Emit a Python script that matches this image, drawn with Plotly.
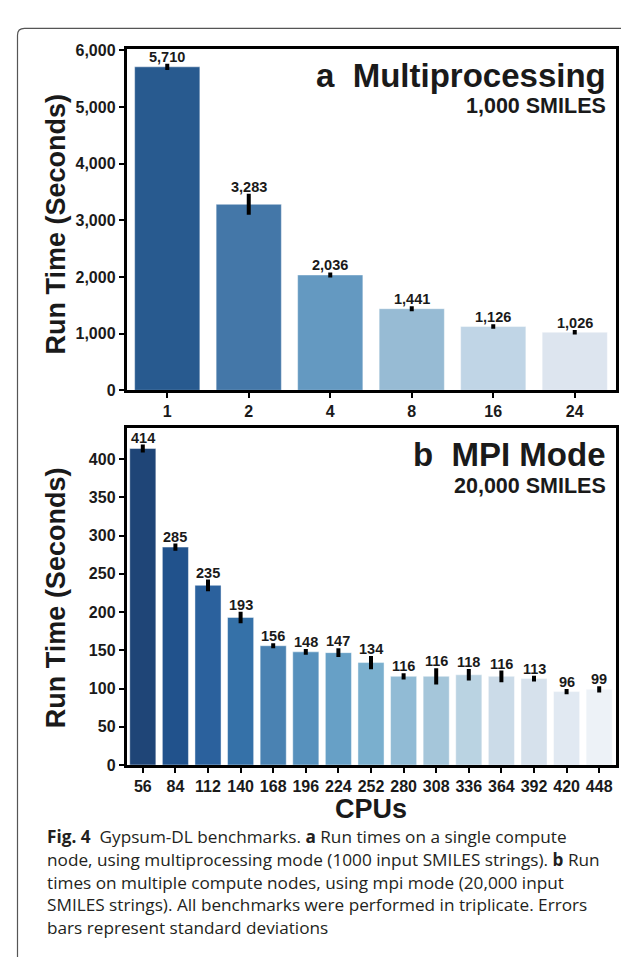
import plotly.graph_objects as go

# ---------------- data ----------------
cpus_a = ["1", "2", "4", "8", "16", "24"]
time_a = [5710, 3283, 2036, 1441, 1126, 1026]
sd_a = [20, 150, 10, 8, 5, 5]

cpus_b = ["56", "84", "112", "140", "168", "196", "224", "252", "280", "308",
          "336", "364", "392", "420", "448"]
time_b = [414, 285, 235, 193, 156, 148, 147, 134, 116, 116, 118, 116, 113, 96, 99]
sd_b = [2.5, 2, 5, 5, 0.5, 1, 3, 6, 1.5, 8, 5, 5, 1, 0.7, 1.5]

colors_a = ["#285a8f", "#4477a8", "#6499c1", "#97bbd4", "#c0d5e6", "#dde5ef"]
colors_b = ["#1f4577", "#21528c", "#2b619d", "#3571a8", "#4a82b2", "#5791bd",
            "#67a0c6", "#7aafce", "#91bbd5", "#a5c6da", "#bad3e2", "#cbdbe8",
            "#d6e1ec", "#e1e9f2", "#edf2f7"]

caption_lines = [
    "<b>Fig. 4</b>\u00a0 Gypsum-DL benchmarks. <b>a</b> Run times on a single compute",
    "node, using multiprocessing mode (1000 input SMILES strings). <b>b</b> Run",
    "times on multiple compute nodes, using mpi mode (20,000 input",
    "SMILES strings). All benchmarks were performed in triplicate. Errors",
    "bars represent standard deviations",
]

# ---------------- layout helpers ----------------
W, H = 629, 962


def px_x(px):
    return px / W


def px_y(py):
    return 1 - py / H


BOLD = "Liberation Sans, Arial, sans-serif"
TXT = "#1a1a1a"

fig = go.Figure()

fig.add_trace(go.Bar(
    x=cpus_a, y=time_a,
    marker=dict(color=colors_a, line=dict(color="rgba(255,255,255,0.55)", width=0.8)),
    error_y=dict(type="data", array=sd_a, color="black", thickness=4, width=2),
    xaxis="x", yaxis="y", showlegend=False,
))
fig.add_trace(go.Bar(
    x=cpus_b, y=time_b,
    marker=dict(color=colors_b, line=dict(color="rgba(255,255,255,0.55)", width=0.8)),
    error_y=dict(type="data", array=sd_b, color="black", thickness=4, width=2),
    xaxis="x2", yaxis="y2", showlegend=False,
))

axis_common = dict(
    showline=True, linecolor="black", linewidth=2.5, mirror=True,
    ticks="outside", ticklen=5, tickwidth=2, tickcolor="black",
    showgrid=False, zeroline=False,
    tickfont=dict(family=BOLD, size=16, color=TXT, weight="bold"),
)

xdom = [px_x(118.5), px_x(607.5)]
fig.update_layout(
    width=W, height=H,
    margin=dict(l=0, r=0, t=0, b=0),
    paper_bgcolor="white", plot_bgcolor="white",
    bargap=0.2,
    xaxis=dict(domain=xdom, anchor="y", type="category",
               categoryorder="array", categoryarray=cpus_a,
               range=[-0.5, len(cpus_a) - 0.5], tickangle=0, **axis_common),
    yaxis=dict(domain=[px_y(381.7), px_y(35)], anchor="x", range=[0, 6017],
               tickformat=",d", dtick=1000, **axis_common),
    xaxis2=dict(domain=xdom, anchor="y2", type="category",
                categoryorder="array", categoryarray=cpus_b,
                range=[-0.5, len(cpus_b) - 0.5], tickangle=0, **axis_common),
    yaxis2=dict(domain=[px_y(762.7), px_y(420)], anchor="x2", range=[0, 440.8],
                dtick=50, **axis_common),
)

annotations = []
# value labels (category index positions)
for xs, ys, es, xr, yr in [(cpus_a, time_a, sd_a, "x", "y"), (cpus_b, time_b, sd_b, "x2", "y2")]:
    for i, (v, e) in enumerate(zip(ys, es)):
        annotations.append(dict(
            x=i, y=v + e, xref=xr, yref=yr, text=f"{v:,}", showarrow=False,
            xanchor="center", yanchor="bottom", yshift=-1,
            font=dict(family=BOLD, size=14.5, color=TXT, weight="bold"),
        ))

# panel titles
annotations += [
    dict(x=px_x(600), y=px_y(62), xref="paper", yref="paper", text="a\u00a0\u00a0Multiprocessing",
         showarrow=False, xanchor="right", yanchor="middle",
         font=dict(family=BOLD, size=33, color=TXT, weight="bold")),
    dict(x=px_x(600), y=px_y(93), xref="paper", yref="paper", text="1,000 SMILES",
         showarrow=False, xanchor="right", yanchor="middle",
         font=dict(family=BOLD, size=21.5, color=TXT, weight="bold")),
    dict(x=px_x(600), y=px_y(447), xref="paper", yref="paper", text="b\u00a0\u00a0MPI Mode",
         showarrow=False, xanchor="right", yanchor="middle",
         font=dict(family=BOLD, size=33, color=TXT, weight="bold")),
    dict(x=px_x(600), y=px_y(479), xref="paper", yref="paper", text="20,000 SMILES",
         showarrow=False, xanchor="right", yanchor="middle",
         font=dict(family=BOLD, size=21.5, color=TXT, weight="bold")),
    # axis titles
    dict(x=px_x(48), y=px_y(213), xref="paper", yref="paper", text="Run Time (Seconds)",
         showarrow=False, textangle=-90, xanchor="center", yanchor="middle",
         font=dict(family=BOLD, size=27, color=TXT, weight="bold")),
    dict(x=px_x(48), y=px_y(593), xref="paper", yref="paper", text="Run Time (Seconds)",
         showarrow=False, textangle=-90, xanchor="center", yanchor="middle",
         font=dict(family=BOLD, size=27, color=TXT, weight="bold")),
    dict(x=px_x(363), y=px_y(807), xref="paper", yref="paper", text="CPUs",
         showarrow=False, xanchor="center", yanchor="middle",
         font=dict(family=BOLD, size=27, color=TXT, weight="bold")),
]

# caption
cap_y = [835, 859, 882, 905, 928]
for line, yy in zip(caption_lines, cap_y):
    annotations.append(dict(
        x=px_x(37), y=px_y(yy), xref="paper", yref="paper", text=line,
        showarrow=False, xanchor="left", yanchor="middle", align="left",
        font=dict(family="Open Sans, sans-serif", size=17.2, color="#231f20"),
    ))

fig.update_layout(annotations=annotations)

# figure frame (rounded top-left corner)
x0, yt, yb, r = px_x(9.5), px_y(13.5), px_y(958), 7
fig.add_shape(
    type="path", xref="paper", yref="paper",
    path=(f"M {x0},{yb} L {x0},{px_y(13.5 + r)} "
          f"Q {x0},{yt} {px_x(9.5 + r)},{yt} L {px_x(640)},{yt}"),
    line=dict(color="#555555", width=1.2),
)

fig.write_html("out.html")
